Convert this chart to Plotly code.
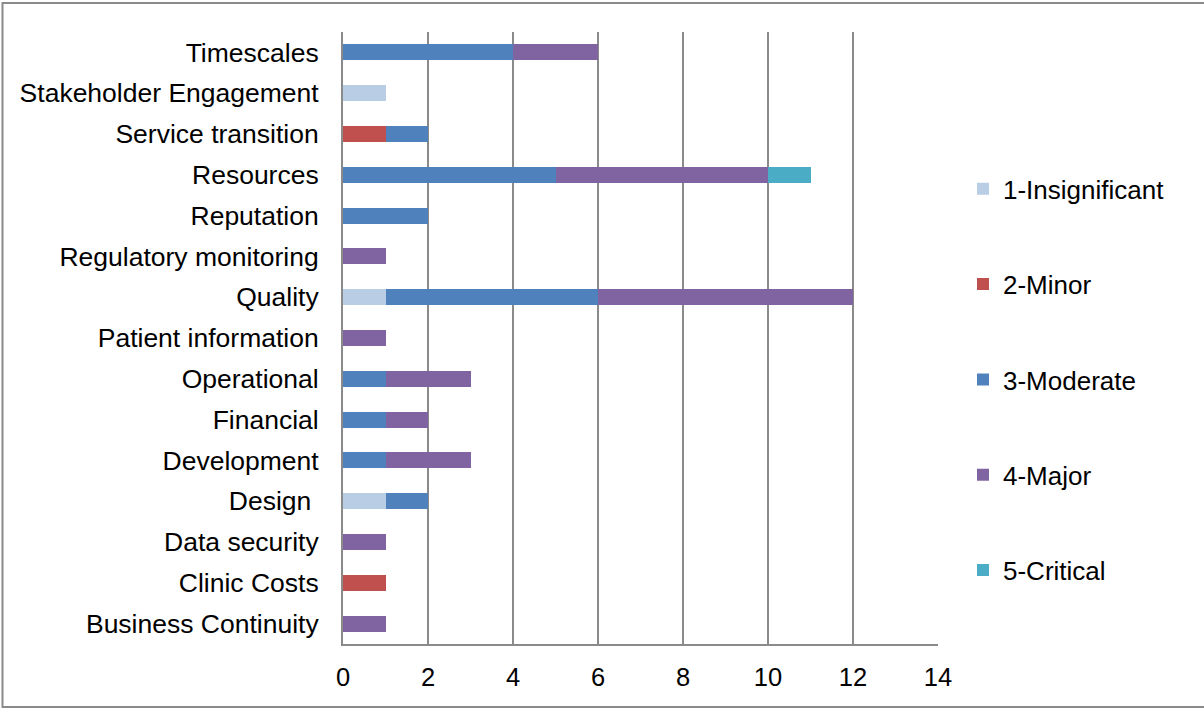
import plotly.graph_objects as go

categories = [
    "Business Continuity", "Clinic Costs", "Data security", "Design\u00a0",
    "Development", "Financial", "Operational", "Patient information",
    "Quality", "Regulatory monitoring", "Reputation", "Resources",
    "Service transition", "Stakeholder Engagement", "Timescales",
]

insignificant = [0, 0, 0, 1, 0, 0, 0, 0, 1, 0, 0, 0, 0, 1, 0]
minor         = [0, 1, 0, 0, 0, 0, 0, 0, 0, 0, 0, 0, 1, 0, 0]
moderate      = [0, 0, 0, 1, 1, 1, 1, 0, 5, 0, 2, 5, 1, 0, 4]
major         = [1, 0, 1, 0, 2, 1, 2, 1, 6, 1, 0, 5, 0, 0, 2]
critical      = [0, 0, 0, 0, 0, 0, 0, 0, 0, 0, 0, 1, 0, 0, 0]

series = [
    ("1-Insignificant", insignificant, "#B9CDE5"),
    ("2-Minor", minor, "#C0504D"),
    ("3-Moderate", moderate, "#4F81BD"),
    ("4-Major", major, "#8064A2"),
    ("5-Critical", critical, "#4BACC6"),
]

x_ticks = [0, 2, 4, 6, 8, 10, 12, 14]

FONT = "Liberation Sans, Arial, sans-serif"

fig = go.Figure()
for name, vals, color in series:
    fig.add_trace(go.Bar(
        y=categories, x=vals, name=name, orientation="h",
        marker=dict(color=color, line=dict(width=0)),
        legendgroup=name,
    ))

W, H = 1204, 709
L, R, T, B = 343, 1204 - 938, 32, 709 - 644

fig.update_layout(
    width=W, height=H,
    barmode="stack", bargap=0.61,
    margin=dict(l=L, r=R, t=T, b=B, autoexpand=False),
    paper_bgcolor="white", plot_bgcolor="white",
    font=dict(family=FONT, size=26, color="black"),
    showlegend=True,
    legend=dict(
        x=1.042, xanchor="left", y=0.782, yanchor="top",
        traceorder="grouped", tracegroupgap=58.5,
        font=dict(family=FONT, size=26, color="black"),
        bgcolor="rgba(0,0,0,0)",
    ),
    xaxis=dict(
        range=[0, 14], tickvals=x_ticks, ticktext=[str(v) for v in x_ticks],
        showgrid=True, gridcolor="#8A8A8A", gridwidth=2,
        showline=True, linecolor="#8A8A8A", linewidth=2,
        zeroline=False, ticks="", ticklabelstandoff=9,
        tickfont=dict(family=FONT, size=25.5, color="black"),
        fixedrange=True,
    ),
    yaxis=dict(
        type="category", categoryorder="array", categoryarray=categories,
        range=[-0.5, len(categories) - 0.5],
        showgrid=False, showline=True, linecolor="#8A8A8A", linewidth=2,
        ticks="", ticklabelstandoff=17,
        tickfont=dict(family=FONT, size=26.5, color="black"),
        fixedrange=True,
    ),
    shapes=[dict(
        type="rect", xref="paper", yref="paper",
        x0=(2.5 - L) / (W - L - R), x1=(1215 - L) / (W - L - R),
        y0=(H - B - 707) / (H - T - B), y1=(H - B - 3) / (H - T - B),
        line=dict(color="#8A8A8A", width=2), fillcolor="rgba(0,0,0,0)",
        layer="below",
    )],
)

fig.write_html("out.html")
